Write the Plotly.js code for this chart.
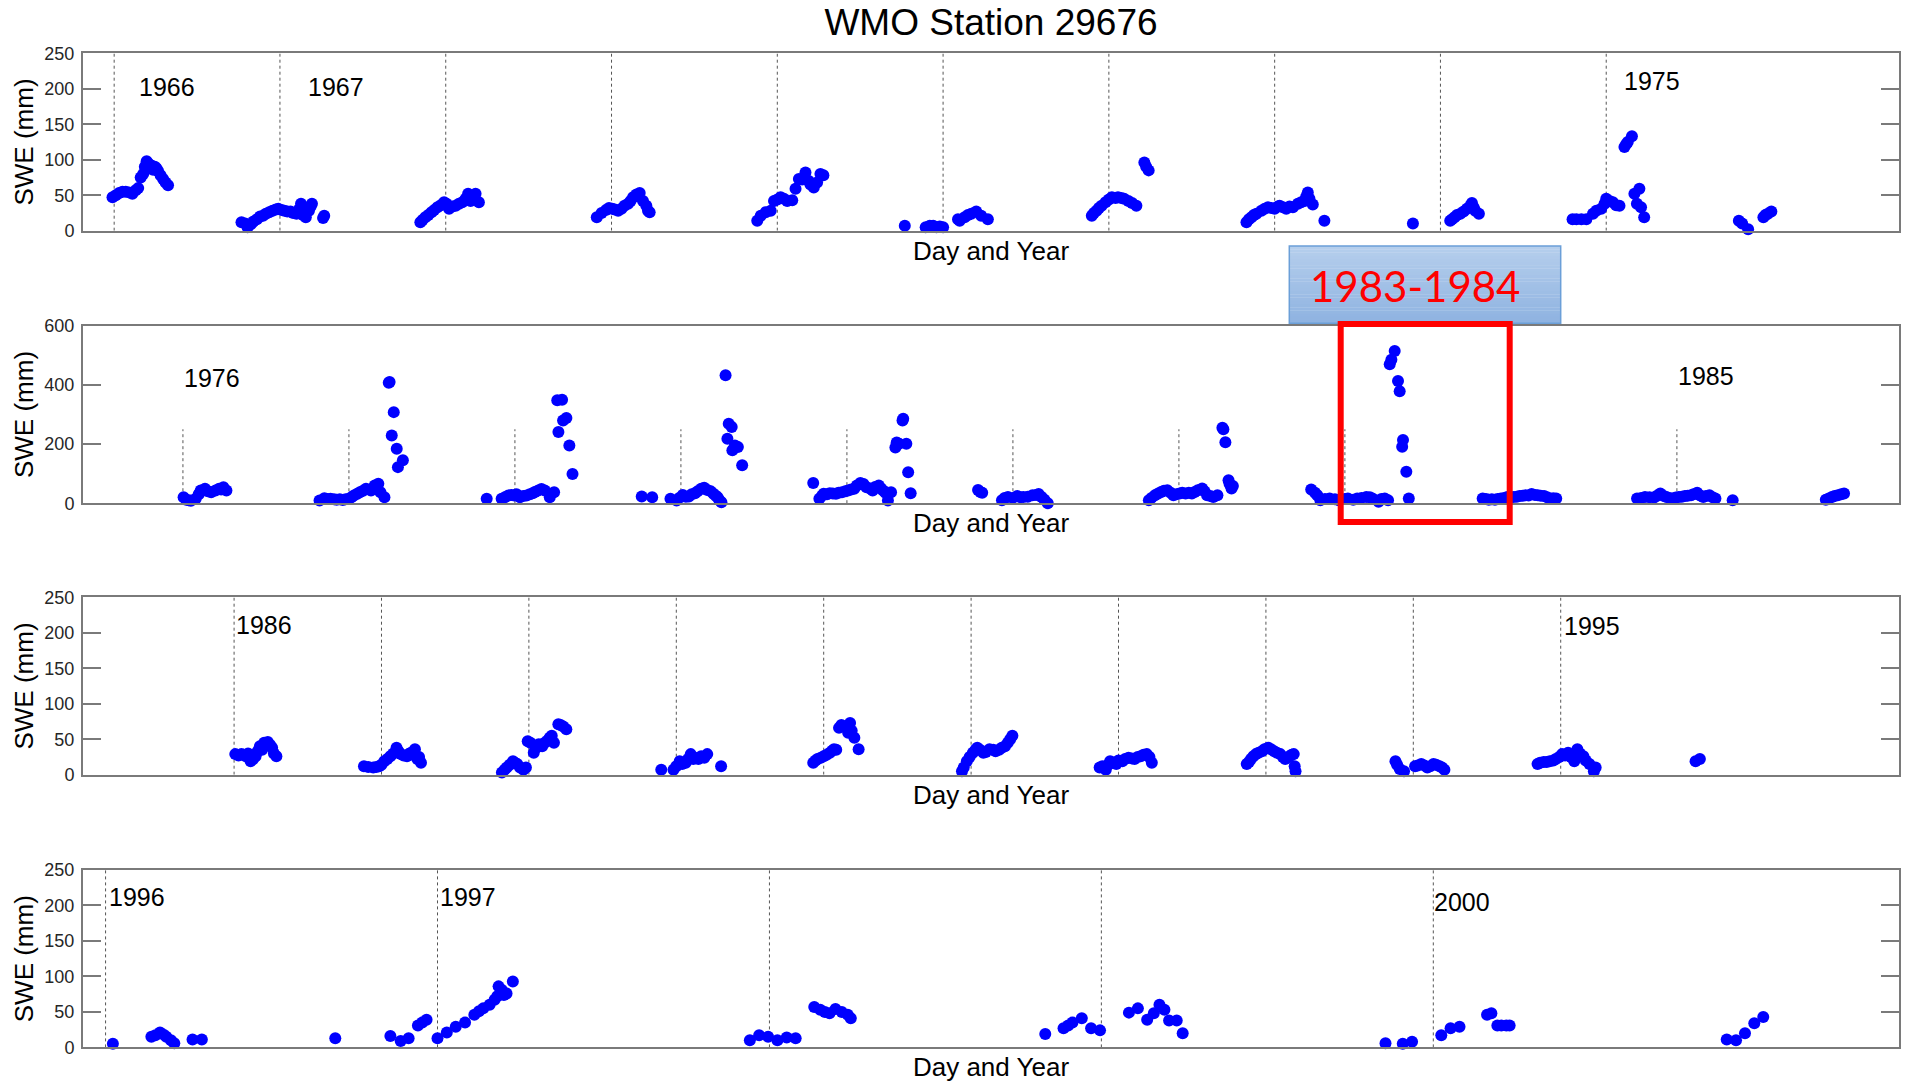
<!DOCTYPE html>
<html><head><meta charset="utf-8">
<script src="https://cdn.plot.ly/plotly-3.0.1.min.js"></script>
<style>html,body{margin:0;padding:0;background:#fff;} #chart{width:1909px;height:1082px;}</style>
</head><body><div id="chart"></div>
<script>
// ---------------- DATA (decimal year, SWE in mm) ----------------
const p1Years = [1965.99,1966.01,1966.03,1966.05,1966.07,1966.09,1966.11,1966.13,1966.145,1966.16,1966.175,1966.185,1966.196,1966.205,1966.215,1966.225,1966.235,1966.245,1966.255,1966.265,1966.28,1966.295,1966.31,1966.325,
 1966.768,1966.79,1966.805,1966.824,1966.84,1966.861,1966.88,1966.898,1966.915,1966.935,1966.955,1966.975,1966.99,1967.01,1967.027,1967.045,1967.064,1967.08,1967.10,1967.115,1967.127,1967.14,1967.156,1967.175,1967.185,1967.193,1967.26,1967.267,
 1967.847,1967.86,1967.877,1967.895,1967.914,1967.93,1967.95,1967.97,1967.99,1968.005,1968.02,1968.04,1968.06,1968.08,1968.10,1968.12,1968.135,1968.15,1968.165,1968.18,1968.20,
 1968.911,1968.94,1968.966,1968.985,1969.004,1969.02,1969.04,1969.06,1969.078,1969.10,1969.115,1969.13,1969.15,1969.16,1969.17,1969.19,1969.21,1969.22,1969.23,
 1969.879,1969.90,1969.93,1969.96,1969.98,1970.00,1970.02,1970.04,1970.06,1970.09,1970.11,1970.13,1970.15,1970.17,1970.19,1970.20,1970.22,1970.24,1970.26,1970.278,
 1970.769,1970.895,1970.92,1970.94,1970.96,1970.98,1971.0,1971.09,1971.10,1971.13,1971.15,1971.17,1971.20,1971.23,1971.27,
 1971.897,1971.91,1971.926,1971.94,1971.956,1971.98,1972.00,1972.018,1972.04,1972.055,1972.075,1972.092,1972.118,1972.14,1972.166,1972.214,1972.225,1972.24,
 1972.83,1972.845,1972.86,1972.875,1972.89,1972.92,1972.94,1972.96,1972.98,1973.00,1973.02,1973.03,1973.05,1973.07,1973.09,1973.11,1973.14,1973.16,1973.18,1973.19,1973.20,1973.21,1973.23,1973.30,
 1973.834,1974.059,1974.07,1974.085,1974.10,1974.12,1974.14,1974.16,1974.18,1974.19,1974.20,1974.21,1974.232,
 1974.797,1974.82,1974.85,1974.88,1974.92,1974.94,1974.97,1974.99,1975.00,1975.02,1975.04,1975.06,1975.08,1975.11,1975.12,1975.13,1975.155,1975.17,1975.185,1975.20,1975.21,1975.229,
 1975.80,1975.82,1975.856,1975.948,1975.96,1975.975,1975.996];
const p1SWE = [47,50,53,55,55,54,52,57,60,75,80,90,98,95,88,92,86,90,88,84,78,73,68,64,
 12,10,5,9,13,16,20,21,24,26,28,30,31,29,28,27,27,25,24,30,38,22,19,28,34,38,18,21,
 12,15,19,22,26,29,33,36,40,38,31,34,35,38,40,45,52,42,48,52,40,
 19,25,29,32,31,30,28,31,35,38,42,47,51,49,53,42,35,28,26,
 14,21,26,28,42,44,47,45,42,43,59,73,72,82,70,65,61,68,80,78,
 7,5,7,7,5,6,5,16,14,19,22,24,27,21,16,
 21,25,28,32,35,40,44,47,46,47,46,45,42,39,35,96,90,85,
 12,16,19,22,24,28,31,33,32,31,34,35,33,31,34,33,38,40,42,48,54,45,37,14,
 10,14,16,19,22,24,27,31,35,39,33,28,24,
 16,16,16,16,24,28,31,38,45,42,40,36,35,118,122,125,133,52,38,59,33,19,
 14,10,2,19,22,24,27];

const p2Years = [1976.004,1976.02,1976.035,1976.048,1976.077,1976.095,1976.107,1976.133,1976.15,1976.17,1976.196,1976.218,1976.23,1976.244,1976.262,
 1976.823,1976.852,1976.87,1976.889,1976.91,1976.926,1976.945,1976.963,1976.98,1977.0,1977.015,1977.03,1977.05,1977.066,1977.085,1977.103,1977.133,1977.155,1977.17,1977.177,1977.19,1977.214,1977.24,1977.245,1977.258,1977.27,1977.288,1977.295,1977.325,
 1977.83,1977.92,1977.94,1977.96,1977.98,1977.996,1978.01,1978.03,1978.05,1978.07,1978.09,1978.107,1978.12,1978.14,1978.16,1978.18,1978.21,1978.236,1978.255,1978.262,1978.284,1978.29,1978.31,1978.328,1978.347,
 1978.764,1978.827,1978.937,1978.974,1978.99,1979.011,1979.03,1979.048,1979.065,1979.085,1979.10,1979.122,1979.14,1979.159,1979.18,1979.196,1979.21,1979.221,1979.232,1979.244,1979.269,1979.28,1979.288,1979.306,1979.31,1979.325,1979.343,1979.369,
 1979.797,1979.834,1979.85,1979.86,1979.88,1979.897,1979.915,1979.934,1979.95,1979.97,1979.99,1980.007,1980.025,1980.044,1980.06,1980.081,1980.10,1980.118,1980.14,1980.155,1980.17,1980.192,1980.205,1980.218,1980.232,1980.247,1980.266,1980.292,1980.30,1980.314,1980.335,1980.339,1980.358,1980.369,1980.384,
 1980.79,1980.804,1980.815,1980.934,1980.95,1980.97,1981.0,1981.026,1981.045,1981.063,1981.09,1981.118,1981.14,1981.155,1981.173,1981.19,1981.21,
 1981.819,1981.835,1981.856,1981.875,1981.893,1981.91,1981.93,1981.95,1981.967,1981.985,1982.004,1982.02,1982.04,1982.06,1982.078,1982.095,1982.114,1982.14,1982.155,1982.17,1982.19,1982.207,1982.232,1982.262,1982.268,1982.28,1982.299,1982.305,1982.317,1982.325,
 1982.797,1982.82,1982.834,1982.852,1982.88,1982.908,1982.94,1982.963,1983.0,1983.018,1983.05,1983.074,1983.10,1983.129,1983.15,1983.166,1983.203,1983.22,1983.24,1983.26,1983.27,1983.28,1983.30,1983.32,1983.33,1983.345,1983.35,1983.37,1983.385,
 1983.83,1983.85,1983.867,1983.885,1983.904,1983.92,1983.94,1983.96,1983.978,1983.995,1984.015,1984.035,1984.052,1984.07,1984.089,1984.107,1984.125,1984.145,1984.162,1984.18,1984.2,1984.218,1984.236,1984.255,1984.273,
 1984.76,1984.785,1984.808,1984.835,1984.863,1984.88,1984.9,1984.918,1984.937,1984.955,1984.974,1984.993,1985.011,1985.03,1985.048,1985.065,1985.085,1985.10,1985.122,1985.14,1985.159,1985.175,1985.196,1985.215,1985.232,1985.336,
 1985.897,1985.915,1985.934,1985.95,1985.97,1985.99,1986.007];
const p2SWE = [20,12,10,8,15,30,43,49,40,37,43,49,46,54,43,
 9,17,14,15,13,12,13,11,13,15,20,26,32,37,42,49,43,60,55,66,37,20,407,410,229,308,184,122,145,
 15,15,20,26,28,26,30,20,24,26,30,34,38,43,48,43,20,37,348,241,350,280,288,195,99,
 23,20,15,9,18,28,22,23,30,34,40,49,52,45,40,32,25,20,10,3,433,218,269,258,179,195,190,128,
 68,15,25,32,30,34,33,32,35,37,40,43,46,49,60,68,65,54,50,43,55,60,50,43,35,9,37,188,205,201,280,286,201,105,34,
 45,38,35,10,18,21,18,24,20,21,22,27,28,31,21,12,0,
 10,18,27,33,38,42,44,35,27,30,33,35,33,35,33,38,44,50,40,27,24,21,27,255,250,206,78,65,50,58,
 46,35,27,10,14,16,13,10,14,16,12,16,18,21,20,16,5,14,16,10,470,485,515,413,379,191,214,106,16,
 16,14,12,13,12,14,16,18,21,20,21,22,24,25,27,26,31,28,27,25,24,20,16,17,16,
 16,18,21,20,19,25,33,25,21,18,16,19,21,22,24,25,27,30,35,26,21,24,27,20,16,10,
 12,16,21,24,27,30,33];

const p3Years = [1986.008,1986.03,1986.05,1986.065,1986.079,1986.095,1986.112,1986.13,1986.146,1986.16,1986.175,1986.19,1986.204,1986.215,1986.229,1986.245,1986.258,1986.27,1986.287,
 1986.881,1986.91,1986.944,1986.965,1986.985,1987.0,1987.019,1987.04,1987.06,1987.08,1987.102,1987.115,1987.131,1987.15,1987.173,1987.19,1987.202,1987.215,1987.227,1987.243,1987.255,1987.268,
 1987.817,1987.835,1987.85,1987.87,1987.892,1987.905,1987.921,1987.94,1987.963,1987.98,1987.992,1988.01,1988.033,1988.05,1988.067,1988.09,1988.108,1988.125,1988.141,1988.155,1988.17,1988.2,1988.215,1988.233,1988.254,
 1988.898,1988.981,1989.0,1989.023,1989.04,1989.064,1989.08,1989.098,1989.115,1989.127,1989.15,1989.169,1989.19,1989.21,1989.304,
 1989.929,1989.945,1989.958,1989.98,1990.0,1990.02,1990.042,1990.06,1990.07,1990.085,1990.104,1990.12,1990.146,1990.16,1990.166,1990.179,1990.19,1990.208,1990.237,
 1990.938,1990.95,1990.971,1990.99,1991.012,1991.03,1991.042,1991.06,1991.083,1991.10,1991.125,1991.15,1991.166,1991.19,1991.208,1991.23,1991.249,1991.265,1991.28,
 1991.872,1991.89,1991.914,1991.93,1991.943,1991.965,1991.985,1992.0,1992.026,1992.045,1992.068,1992.09,1992.109,1992.13,1992.151,1992.17,1992.192,1992.21,1992.226,
 1992.87,1992.885,1992.899,1992.915,1992.932,1992.95,1992.973,1992.99,1993.015,1993.035,1993.056,1993.075,1993.098,1993.115,1993.131,1993.145,1993.16,1993.175,1993.189,1993.195,1993.201,
 1993.879,1993.89,1993.908,1993.937,1994.012,1994.03,1994.054,1994.075,1994.095,1994.115,1994.137,1994.155,1994.178,1994.195,1994.211,
 1994.843,1994.86,1994.884,1994.905,1994.926,1994.95,1994.967,1994.99,1995.009,1995.03,1995.05,1995.07,1995.092,1995.113,1995.13,1995.154,1995.17,1995.195,1995.225,1995.237,
 1995.915,1995.944];
const p3SWE = [29,27,29,28,26,30,19,22,26,33,40,35,45,44,46,42,38,30,26,
 12,11,10,11,12,14,19,22,26,30,38,33,29,27,26,30,31,28,36,22,25,17,
 3,7,10,14,19,17,15,10,7,10,47,45,31,38,43,40,45,48,52,55,45,71,70,68,64,
 7,7,12,19,15,17,22,29,22,24,22,26,24,29,12,
 17,20,22,24,26,28,31,34,36,35,66,70,68,65,59,73,62,52,36,
 5,10,19,25,31,35,38,35,31,32,36,35,33,35,38,40,45,50,55,
 10,12,7,14,19,17,15,20,19,22,24,23,22,25,26,28,29,25,17,
 15,18,22,26,29,31,33,36,38,36,33,31,29,25,22,24,26,28,29,12,5,
 19,14,8,5,12,13,15,13,10,12,15,14,12,10,7,
 15,17,18,18,19,20,22,25,29,27,31,25,19,36,30,26,20,15,5,10,
 19,22];

const p4Years = [1996.022,1996.138,1996.15,1996.164,1996.175,1996.183,1996.197,1996.207,1996.262,1996.29,
 1996.692,
 1996.858,1996.889,1996.913,1996.941,1996.954,1996.967,
 1997.0,1997.028,1997.055,1997.083,1997.111,1997.125,1997.138,1997.157,1997.172,1997.18,1997.184,1997.194,1997.2,1997.208,1997.227,
 1997.941,1997.969,1997.996,1998.024,1998.052,1998.079,
 1998.135,1998.153,1998.167,1998.181,1998.199,1998.218,1998.236,1998.245,
 1998.831,1998.886,1998.90,1998.913,1998.941,1998.969,1998.996,
 1999.083,1999.11,1999.138,1999.158,1999.175,1999.19,1999.204,1999.227,1999.245,
 1999.856,1999.908,1999.936,
 2000.024,2000.052,2000.079,2000.162,2000.175,2000.193,2000.205,2000.22,2000.23,
 2000.884,2000.912,2000.939,2000.967,2000.994];
const p4SWE = [5,15,17,21,18,15,10,6,11,11,
 13,
 16,9,13,31,35,39,
 13,21,29,35,46,51,55,60,67,72,86,81,74,76,93,
 10,17,15,10,14,13,
 57,53,50,48,54,50,46,41,
 19,27,31,35,41,27,24,
 49,55,39,48,60,53,38,38,20,
 6,5,8,
 17,27,29,46,48,31,31,31,31,
 11,10,20,34,43];

// year marker lines (Jan 1) drawn in each panel
const p1LineYears = [1966,1967,1968,1969,1970,1971,1972,1973,1974,1975];
const p2LineYears = [1976,1977,1978,1979,1980,1981,1982,1983,1984,1985];
const p3LineYears = [1986,1987,1988,1989,1990,1991,1992,1993,1994,1995];
const p4LineYears = [1996,1997,1998,1999,2000];

// year labels written in the panels
const p1Labels = ['1966','1967','1975'];
const p2Labels = ['1976','1985'];
const p3Labels = ['1986','1995'];
const p4Labels = ['1996','1997','2000'];

const yTicksSmall = [0,50,100,150,200,250];
const yTicksLarge = [0,200,400,600];

// ---------------- LAYOUT ----------------
const W = 1909, H = 1082, ML = 83, MR = 10;
const FONT = '"Liberation Sans", Arial, Helvetica, sans-serif';
const AX = '#7a7a7a';
const panelTop = [53.3, 325.8, 597.3, 870];
const panelH = 177.4;
const py = p => 1 - p / H;
const px = p => (p - ML) / (W - ML - MR);

const panels = [
  {years:p1Years, swe:p1SWE, lines:p1LineYears, lineTop:250, labels:p1Labels,
   labelPos:[[1966.14,202],[1967.155,203],[1975.095,211]], range:[1965.812,1976.766], yr:[0,250], ticks:yTicksSmall},
  {years:p2Years, swe:p2SWE, lines:p2LineYears, lineTop:250, labels:p2Labels,
   labelPos:[[1975.995,423],[1984.995,430]], range:[1975.398,1986.338], yr:[0,600], ticks:yTicksLarge},
  {years:p3Years, swe:p3SWE, lines:p3LineYears, lineTop:250, labels:p3Labels,
   labelPos:[[1986.0,211],[1995.01,210]], range:[1984.975,1997.295], yr:[0,250], ticks:yTicksSmall},
  {years:p4Years, swe:p4SWE, lines:p4LineYears, lineTop:250, labels:p4Labels,
   labelPos:[[1996.004,212],[1997.0,212],[1999.996,205]], range:[1995.932,2001.403], yr:[0,250], ticks:yTicksSmall}
];

const data = [];
const shapes = [];
const annotations = [];
const layout = {
  width: W, height: H,
  margin: {l: ML, r: MR, t: 0, b: 0, pad: 0},
  paper_bgcolor: '#ffffff', plot_bgcolor: '#ffffff',
  showlegend: false,
  font: {family: FONT, color: '#000'},
  title: {text: 'WMO Station 29676', font: {family: FONT, size: 37, color: '#000'},
          x: 0.5, xref: 'paper', xanchor: 'center', y: py(22.5), yref: 'container', yanchor: 'middle'},
  shapes: shapes, annotations: annotations
};

panels.forEach((p, i) => {
  const sfx = i === 0 ? '' : String(i + 1);
  const xa = 'x' + sfx, ya = 'y' + sfx;
  data.push({
    type: 'scatter', mode: 'markers', x: p.years, y: p.swe,
    xaxis: xa, yaxis: ya, cliponaxis: false, hoverinfo: 'skip',
    marker: {size: 12, color: '#0000ff', line: {width: 0}}
  });
  layout['xaxis' + sfx] = {
    domain: [0, 1], anchor: ya, range: p.range, autorange: false,
    showline: true, mirror: true, linecolor: AX, linewidth: 2,
    ticks: '', showticklabels: false, showgrid: false, zeroline: false,
    title: {text: 'Day and Year', font: {family: FONT, size: 26, color: '#000'}, standoff: 10}
  };
  layout['yaxis' + sfx] = {
    domain: [py(panelTop[i] + panelH), py(panelTop[i])], anchor: xa,
    range: p.yr, autorange: false, tickvals: p.ticks, ticktext: p.ticks.map(String),
    ticks: 'inside', ticklen: 18, tickwidth: 2, tickcolor: AX,
    showline: true, mirror: 'ticks', linecolor: AX, linewidth: 2,
    tickfont: {family: FONT, size: 18, color: '#262626'}, ticklabelstandoff: 3,
    showgrid: false, zeroline: false,
    title: {text: 'SWE (mm)', font: {family: FONT, size: 26, color: '#000'}, standoff: 3}
  };
  p.lines.forEach(yr => shapes.push({
    type: 'line', xref: xa, yref: ya, x0: yr, x1: yr, y0: 0, y1: p.lineTop,
    line: {color: '#555555', width: 1, dash: 'dot'}, layer: 'below'
  }));
  p.labels.forEach((t, k) => annotations.push({
    xref: xa, yref: ya, x: p.labelPos[k][0], y: p.labelPos[k][1], text: t,
    showarrow: false, xanchor: 'left', yanchor: 'middle',
    font: {family: FONT, size: 25, color: '#000'}
  }));
});

// highlight call-out (blue gradient label box + red frame)
const boxL = 1289.3, boxR = 1560.7, boxT = 246, boxB = 323.3, N = 24;
const cTop = [181, 206, 236], cBot = [143, 179, 225];
for (let k = 0; k < N; k++) {
  const f = k / (N - 1);
  const c = cTop.map((v, j) => Math.round(v + (cBot[j] - v) * f));
  shapes.push({type: 'rect', xref: 'paper', yref: 'paper',
    x0: px(boxL), x1: px(boxR),
    y0: py(boxT + (k + 1) * (boxB - boxT) / N + 0.3), y1: py(boxT + k * (boxB - boxT) / N),
    line: {width: 0}, fillcolor: 'rgb(' + c.join(',') + ')', layer: 'above'});
}
shapes.push({type: 'rect', xref: 'paper', yref: 'paper', x0: px(boxL), x1: px(boxR), y0: py(boxB), y1: py(boxT),
  line: {color: '#6b9fd8', width: 1.5}, fillcolor: 'rgba(0,0,0,0)', layer: 'above'});
shapes.push({type: 'rect', xref: 'paper', yref: 'paper', x0: px(1340.7), x1: px(1509.7), y0: py(522), y1: py(324),
  line: {color: '#ff0000', width: 6}, fillcolor: 'rgba(0,0,0,0)', layer: 'above'});
annotations.push({xref: 'paper', yref: 'paper', x: px(1414.5), y: py(286), text: '1983-1984',
  showarrow: false, xanchor: 'center', yanchor: 'middle',
  font: {family: 'Lato, "Open Sans", sans-serif', size: 42, color: '#ff0000'}});

Plotly.newPlot('chart', data, layout, {displayModeBar: false, staticPlot: true});
</script>
</body></html>
